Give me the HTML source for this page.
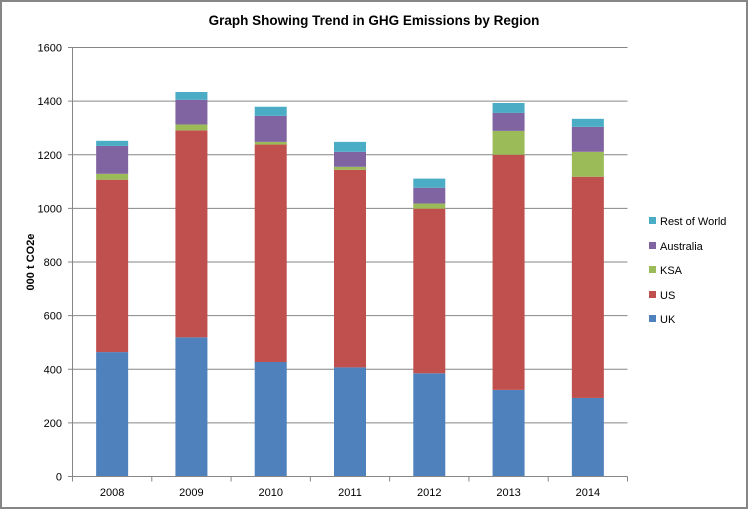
<!DOCTYPE html>
<html><head><meta charset="utf-8"><style>
html,body{margin:0;padding:0;background:#fff}
svg{display:block;font-family:"Liberation Sans",Arial,sans-serif}
</style></head><body>
<svg width="748" height="509" viewBox="0 0 748 509">
<rect x="1" y="1" width="746" height="507" fill="#fff" stroke="#868686" stroke-width="2"/>
<text x="374" y="25" text-anchor="middle" font-size="13.5" font-weight="bold" fill="#000">Graph Showing Trend in GHG Emissions by Region</text>
<text transform="translate(34,262) rotate(-90)" text-anchor="middle" font-size="11" font-weight="bold" fill="#000">000 t CO2e</text>
<g id="grid"></g><g id="bars"></g><g id="axes"></g><g id="legend"></g>
</svg>
<script>
const categories=["2008","2009","2010","2011","2012","2013","2014"];
const seriesNames=["UK","US","KSA","Australia","Rest of World"];
const ukValues=[464,519,427,407,385,323,293];
const usValues=[643,772,811,737,614,877,825];
const ksaValues=[22,22,10,11,19,89,93];
const australiaValues=[104,92,97,56,59,67,93];
const rowValues=[19,29,34,37,34,37,30];
const yTicks=[0,200,400,600,800,1000,1200,1400,1600];
const colors=["#4f81bd","#c0504d","#9bbb59","#8064a2","#4bacc6"];
const series=[ukValues,usValues,ksaValues,australiaValues,rowValues];
const NS="http://www.w3.org/2000/svg";
const X0=72.5,X1=627.5,Y0=476.5,Y1=47.5,YMAX=1600;
const y=v=>Y0-(v/YMAX)*(Y0-Y1);
const bw=(X1-X0)/categories.length;
const x=i=>X0+bw*(i+0.5);
function mk(t,a,p){const e=document.createElementNS(NS,t);for(const k in a)e.setAttribute(k,a[k]);p.appendChild(e);return e;}
const grid=document.getElementById('grid'),bars=document.getElementById('bars'),axes=document.getElementById('axes'),legend=document.getElementById('legend');
yTicks.forEach(t=>{
 const l=mk('line',{x1:68,x2:X1,y1:y(t),y2:y(t),stroke:'#868686','stroke-width':1},grid);
 
 
 const tx=mk('text',{x:62,y:y(t)+4,'text-anchor':'end','font-size':11,fill:'#000'},axes);
 tx.textContent=t;
 
 
});
categories.forEach((c,i)=>{
 let base=0;
 series.forEach((s,j)=>{
  const r=mk('rect',{x:x(i)-16,width:32,y:y(base+s[i]),height:y(base)-y(base+s[i]),fill:colors[j]},bars);
  
  
  base+=s[i];
 });
 const tx=mk('text',{x:x(i),y:496,'text-anchor':'middle','font-size':11,fill:'#000'},axes);
 tx.textContent=c;
 
 
});
for(let i=0;i<=categories.length;i++){
 const t=mk('line',{x1:X0+bw*i,x2:X0+bw*i,y1:Y0,y2:Y0+5,stroke:'#868686'},axes);
 
 
}
const ya=mk('line',{x1:X0,x2:X0,y1:Y1,y2:Y0,stroke:'#868686'},axes);


const xa=mk('line',{x1:X0,x2:X1,y1:Y0,y2:Y0,stroke:'#868686'},axes);


const ly=[319,295,270,246,221];
seriesNames.forEach((n,j)=>{
 const g=mk('g',{},legend);
 
 
 mk('rect',{x:649,y:ly[j]-4,width:7,height:7,fill:colors[j]},g);
 const t=mk('text',{x:660,y:ly[j]+4,'font-size':11,fill:'#000'},g);
 t.textContent=n;
});
</script>
</body></html>
